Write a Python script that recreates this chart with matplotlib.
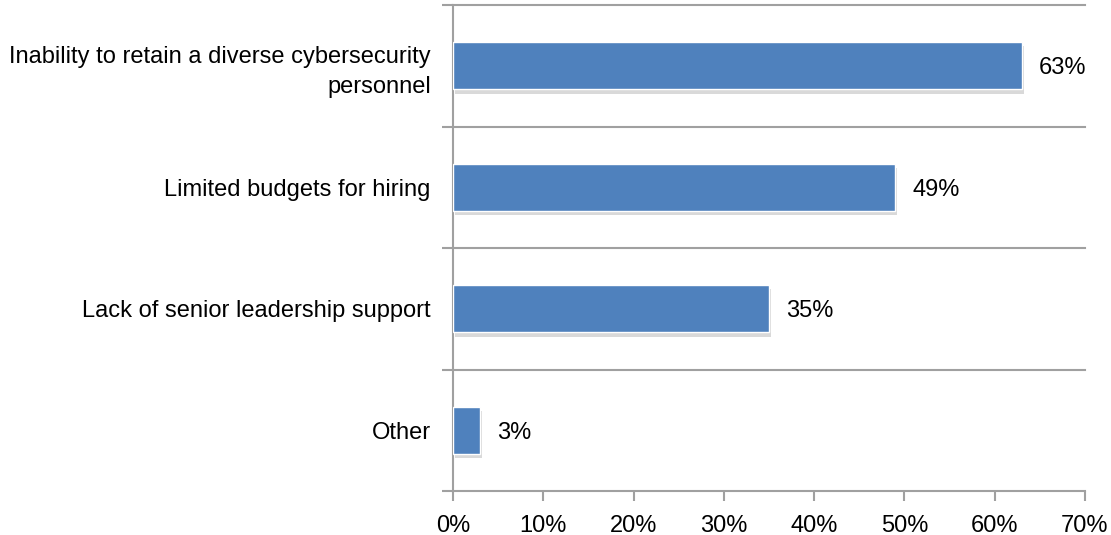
import matplotlib
matplotlib.use("Agg")
import matplotlib.pyplot as plt
import matplotlib.patheffects as pe
import numpy as np

plt.rcParams['font.family'] = ['Liberation Sans', 'DejaVu Sans']

categories = [
    "Inability to retain a diverse cybersecurity\npersonnel",
    "Limited budgets for hiring",
    "Lack of senior leadership support",
    "Other",
]
values = [63, 49, 35, 3]
x_ticks = [0, 10, 20, 30, 40, 50, 60, 70]
x_tick_labels = [f"{t}%" for t in x_ticks]

bar_color = "#4F81BD"
axis_color = "#A0A0A0"
fs = 17

fig = plt.figure(figsize=(11.11, 5.35), dpi=100)
ax = fig.add_axes([453 / 1111, 44 / 535, (1085 - 453) / 1111, (491 - 5) / 535])

y = np.arange(len(categories))
bars = ax.barh(y, values, height=0.39, color=bar_color, edgecolor="white",
               linewidth=1.0, zorder=3)
for b in bars:
    b.set_path_effects([
        pe.SimplePatchShadow(offset=(1.5, -3), shadow_rgbFace="#000000", alpha=0.15),
        pe.Normal(),
    ])

for yi, v in zip(y, values):
    ax.text(v + 1.9, yi + 0.02, f"{v}%", va="center", ha="left", fontsize=fs,
            color="black", zorder=4)

ax.set_xlim(0, 70)
ax.set_ylim(len(categories) - 0.5, -0.5)

# horizontal separators between categories
boundaries = np.arange(-0.5, len(categories), 1.0)
for bnd in boundaries[:-1]:
    ax.axhline(bnd, color=axis_color, linewidth=1.5, zorder=1, clip_on=False)

ax.set_xticks(x_ticks)
ax.set_xticklabels(x_tick_labels, fontsize=fs)
ax.tick_params(axis="x", direction="out", length=7, width=1.5, color=axis_color,
               pad=10)

ax.set_yticks(boundaries)
ax.set_yticklabels([])
ax.tick_params(axis="y", which="major", direction="out", length=8, width=1.5,
               color=axis_color)
ax.set_yticks(y, minor=True)
ax.set_yticklabels(categories, minor=True, fontsize=fs)
ax.tick_params(axis="y", which="minor", length=0, pad=16)
for lbl in ax.get_yticklabels(minor=True):
    lbl.set_multialignment("right")
    lbl.set_linespacing(1.45)

for side in ["top", "right"]:
    ax.spines[side].set_visible(False)
for side in ["left", "bottom"]:
    ax.spines[side].set_color(axis_color)
    ax.spines[side].set_linewidth(1.5)

fig.savefig("out.png", dpi=100)
